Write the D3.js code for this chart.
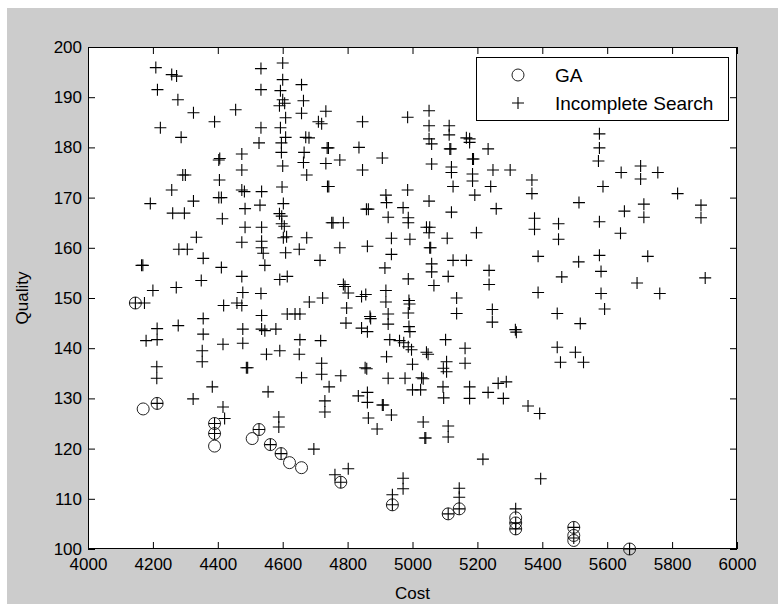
<!DOCTYPE html>
<html><head><meta charset="utf-8">
<script src="https://cdn.jsdelivr.net/npm/d3@7"></script>
<style>
html,body{margin:0;padding:0;background:#cccccc;}
svg{display:block;}
text{font-family:"Liberation Sans",Arial,sans-serif;fill:#000;}
</style></head>
<body><svg id="chart" width="778" height="604"></svg>
<script>
// ---- data ----
const xTicks = [4000,4200,4400,4600,4800,5000,5200,5400,5600,5800,6000];
const yTicks = [100,110,120,130,140,150,160,170,180,190,200];
const legendLabels = ["GA","Incomplete Search"];

const gaCost    = [4146,4170,4213,4390,4390,4390,4506,4527,4562,4595,4621,4658,4779,4938,5110,5144,5318,5318,5318,5497,5497,5497,5669];
const gaQuality = [149,127.9,129,125,123,120.5,122,123.8,120.8,119,117.2,116.2,113.3,108.8,107,108,106.2,105.2,104,104.3,102.7,101.7,100];

const isCost = [
4209,4258,4273,4214,4277,4325,4390,4455,4223,4287,4533,4533,4600,4600,4593,4600,4590,4606,4533,4527,4593,4609,4609,4596,4596,4600,4474,4403,4406,4474,4292,4300,4405,4258,4474,4482,4535,4598,4192,4325,4403,4411,4261,4297,4414,4484,4530,4602,4590,4597,
4484,4535,4597,4605,4602,4612,4334,4280,4306,4474,4535,4535,4540,4609,4355,4411,4165,4169,4545,4474,4614,4591,4349,4272,4200,4477,4533,4146,4174,4418,4459,4474,4614,4355,4278,4213,4213,4179,4355,4477,4535,4535,4545,4579,4416,4477,4591,4550,4352,4352,4212,4212,4488,4492,4383,4555,
4213,4324,4416,4421,4390,4390,4527,4588,4588,4562,4595,
4730,4730,4696,4833,4861,4861,4907,4910,4864,4935,4891,5000,5025,5033,5038,5041,5096,5110,5110,5176,5233,5280,5217,4761,4802,4779,4971,4971,4938,4938,5144,5144,5144,5110,
5356,5392,5395,5318,5318,5318,5497,5497,5669,
5376,5376,5450,5450,5576,5641,5387,5512,5576,5581,5725,5460,5902,5692,5387,5581,5762,5592,5446,5517,5317,5320,5446,5502,5456,5527,5289,
5576,5576,5573,5301,5643,5703,5703,5756,5368,5368,5587,5817,5513,5653,5713,5713,5889,5889,
4658,4664,4658,4733,4710,4720,4846,4985,5051,5051,5113,5113,5051,5059,5166,5176,5176,4671,4681,4666,4737,4741,4835,5115,5118,5233,4776,4907,5059,5185,5188,5120,5120,4664,4733,4674,4846,5185,5185,5248,4738,4742,4985,5125,5241,4918,4920,5192,5051,4858,4864,4971,5258,4925,4987,4987,5120,4751,4755,4787,
5043,5053,5197,4651,4674,4776,4861,4935,4992,5051,5053,5056,5107,4935,4715,4915,5059,5059,5125,5166,5236,5236,4987,5110,5066,4787,4792,4802,4682,4723,4843,4856,4918,4918,4989,4991,4987,5136,5136,5246,5246,4638,4653,4797,4869,4871,4925,4925,4795,4843,4861,4989,4653,4717,4651,4930,4960,4973,4987,4997,4992,5043,5048,5102,5162,5162,4920,5000,4720,4720,4779,4658,4854,4859,4925,4977,5028,5033,5105,5095,5105,4743,5094,5176,5264
];
const isQuality = [
195.9,194.5,194.2,191.5,189.5,186.9,185.1,187.5,183.9,182,195.7,191.5,196.8,193.5,191.3,189.5,188.3,188.8,183.9,180.9,183.9,185.9,182,180.9,179,176.3,178.7,177.5,177.8,175.5,174.5,174.5,173.5,171.5,171.5,171.2,171.2,172.1,168.8,169.3,170,170,166.9,166.9,165.8,167.8,168.5,168.8,166.8,166.3,
164.1,164.1,164.8,164.3,162,162.2,162.1,159.7,159.7,161.1,161.3,160,158.9,159,157.9,156.1,156.5,156.5,156.5,154.3,154.3,153.7,153.5,152.1,151.5,151.1,150.9,149,149,148.5,149,148.5,146.8,145.9,144.5,143.9,141.7,141.5,142.8,143.8,146.5,143.8,143.5,143.8,140.8,141,139.5,138.8,139.5,137.3,136.3,134,136.1,136.1,132.3,131.3,
129,129.9,128.3,126,125,123,123.8,126.3,124.3,120.8,119,
129.5,127.3,119.9,130.5,131.2,129.2,128.7,128.7,126.1,126.7,123.9,131.7,131.7,125.3,122.1,122.1,130.1,124.5,122.3,130,131.2,130,117.9,114.8,116,113.3,114.1,112,110.8,108.8,112.1,110.3,108,107,
128.5,127,114,108,105.2,104,104.3,102.2,100,
165.9,163.7,164.8,161.7,165.2,162.9,158.3,157.2,158.5,155.3,158.3,154.2,154,153,151.1,150.9,150.9,147.8,146.9,144.9,143.7,143.2,140.2,139.2,137.2,137.2,133.3,
182.7,179.9,177.3,175.5,175,176.3,173.7,175,173.5,170.8,172.2,170.8,169,167.3,168.7,166.1,168.5,166,
192.5,189.3,186.8,187.2,185.1,184.7,185.1,186,187.3,184.3,184.3,182.5,181.7,180.7,181.9,181.7,181,182,181.9,179,179.9,179.9,180,179.7,179.7,179.7,177.5,177.9,176.7,177.7,177.7,176.1,175,177,176.8,174.5,175.5,174.7,173.3,175.5,172.2,172.2,171.5,172.2,172.2,170.5,169,170.5,169.3,167.7,167.7,168,167.8,166.1,166,165,167.1,165,165,165,
164.1,164.1,163,159.7,162,160,160.3,161.9,161.7,163,160,160,161.9,158.7,157.5,156,156.8,155.2,157.5,157.5,155.5,152.7,153.8,154.3,152.5,152.7,152.3,151,149.2,150,150.3,150.7,151.5,149.2,149.5,148.8,147,150,146.9,147.7,145.2,146.8,146.8,148,146.3,145.9,146.8,144.8,145,144,143.3,144.3,141.7,141.5,138.8,141.7,141.5,141.1,140.3,139.7,143.3,139.2,138.8,141.7,140,137,138.3,136.8,137,134.8,134.5,134.1,136.1,135.9,134,134,134.1,133.9,137.3,136,135.3,132.3,132.3,132.3,133
];

// ---- layout ----
const W = 778, H = 604;
const plot = {left: 88, right: 737, top: 47, bottom: 549};
const svg = d3.select("#chart");

svg.append("rect").attr("x",0).attr("y",0).attr("width",W).attr("height",H).attr("fill","#cccccc");
svg.append("rect").attr("x",0).attr("y",0).attr("width",W).attr("height",8).attr("fill","#ffffff");
svg.append("rect").attr("x",0).attr("y",0).attr("width",7).attr("height",H).attr("fill","#ffffff");

const x = d3.scaleLinear().domain([4000,6000]).range([plot.left, plot.right]);
const y = d3.scaleLinear().domain([100,200]).range([plot.bottom, plot.top]);

svg.append("rect").attr("x",plot.left).attr("y",plot.top)
  .attr("width",plot.right-plot.left).attr("height",plot.bottom-plot.top)
  .attr("fill","#ffffff");

const fs = 17, lfs = 19;
function styleAxis(g, labels){
  g.select(".domain").remove();
  g.selectAll(".tick line").attr("stroke","#000").attr("stroke-width",1);
  g.selectAll(".tick text").style("font-size", fs+"px").style("font-family","'Liberation Sans',Arial,sans-serif").attr("fill","#000");
  if(!labels) g.selectAll(".tick text").remove();
}
svg.append("g").attr("transform",`translate(0,${plot.bottom})`)
  .call(d3.axisBottom(x).tickValues(xTicks).tickFormat(d3.format("d")).tickSize(-7).tickPadding(9))
  .call(g=>styleAxis(g,true));
svg.append("g").attr("transform",`translate(0,${plot.top})`)
  .call(d3.axisTop(x).tickValues(xTicks).tickSize(-7))
  .call(g=>styleAxis(g,false));
svg.append("g").attr("transform",`translate(${plot.left},0)`)
  .call(d3.axisLeft(y).tickValues(yTicks).tickFormat(d3.format("d")).tickSize(-7).tickPadding(6))
  .call(g=>styleAxis(g,true));
svg.append("g").attr("transform",`translate(${plot.right},0)`)
  .call(d3.axisRight(y).tickValues(yTicks).tickSize(-7))
  .call(g=>styleAxis(g,false));

svg.append("rect").attr("x",plot.left+0.5).attr("y",plot.top+0.5)
  .attr("width",plot.right-plot.left-1).attr("height",plot.bottom-plot.top-1)
  .attr("fill","none").attr("stroke","#000").attr("stroke-width",1);

svg.append("text").attr("x",(plot.left+plot.right)/2).attr("y",599)
  .attr("text-anchor","middle").style("font-size",fs+"px").text("Cost");
svg.append("text").attr("transform",`translate(28,${(plot.top+plot.bottom)/2}) rotate(-90)`)
  .attr("text-anchor","middle").style("font-size",fs+"px").text("Quality");

const plusPath = s => `M${-s},0H${s}M0,${-s}V${s}`;
const isData = isCost.map((c,i)=>({c, q:isQuality[i]}));
const gaData = gaCost.map((c,i)=>({c, q:gaQuality[i]}));

svg.append("g").selectAll("circle").data(gaData).join("circle")
  .attr("cx",d=>x(d.c)).attr("cy",d=>y(d.q)).attr("r",6)
  .attr("fill","none").attr("stroke","#222").attr("stroke-width",1);

svg.append("g").selectAll("path").data(isData).join("path")
  .attr("transform",d=>`translate(${x(d.c)},${y(d.q)})`)
  .attr("d",plusPath(6)).attr("stroke","#000").attr("stroke-width",1.1).attr("fill","none");

// legend
const lg = {x:476, y:57, w:252, h:63};
svg.append("rect").attr("x",lg.x+0.5).attr("y",lg.y+0.5).attr("width",lg.w).attr("height",lg.h)
  .attr("fill","#fff").attr("stroke","#000").attr("stroke-width",1);
svg.append("circle").attr("cx",lg.x+42).attr("cy",lg.y+18).attr("r",6)
  .attr("fill","none").attr("stroke","#222");
svg.append("path").attr("transform",`translate(${lg.x+42},${lg.y+46})`).attr("d",plusPath(6))
  .attr("stroke","#000").attr("stroke-width",1.1);
svg.append("text").attr("x",lg.x+79).attr("y",lg.y+18).attr("dy","0.35em")
  .style("font-size",lfs+"px").text(legendLabels[0]);
svg.append("text").attr("x",lg.x+79).attr("y",lg.y+46).attr("dy","0.35em")
  .style("font-size",lfs+"px").text(legendLabels[1]);
</script></body></html>
